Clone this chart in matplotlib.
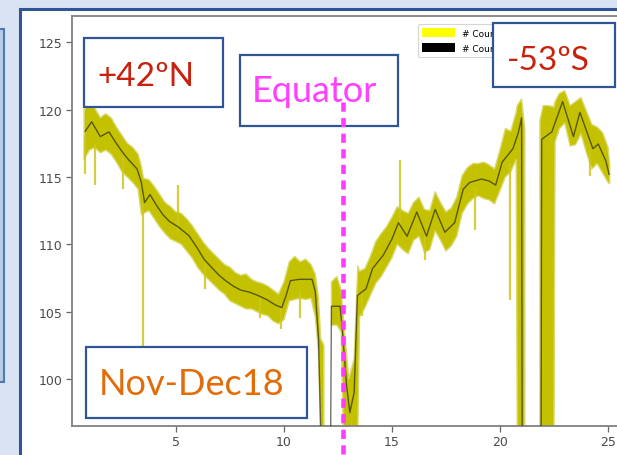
import numpy as np
import matplotlib
matplotlib.use("Agg")
import matplotlib.pyplot as plt
from matplotlib.patches import Rectangle, Patch
from matplotlib.lines import Line2D

# ---- running mean of the counts (black line) ----
day = [0.8, 1.1, 1.5, 1.9, 2.2, 2.5, 2.8, 3.2, 3.4, 3.55, 3.8, 4.1, 4.4, 4.7, 5.1,
       5.6, 6.0, 6.3, 6.7, 7.0, 7.3, 7.65, 8.0, 8.4, 8.8, 9.2, 9.6, 9.9, 10.1, 10.3,
       10.7, 11.0, 11.3, 11.45, 11.6, 11.75, 12.15, 12.2, 12.6, 12.7, 12.9, 13.05, 13.25, 13.4, 13.8,
       14.1, 14.6, 15.0, 15.3, 15.7, 16.15, 16.6, 17.0, 17.45, 17.9, 18.3, 18.6, 19.15, 19.5, 19.8,
       20.1, 20.6, 20.85, 21.0, 21.03, 21.9, 21.93, 22.4, 22.9, 23.4, 23.7, 24.3, 24.55, 24.9, 25.05]
mean_val = [118.4, 119.1, 118.0, 118.35, 117.6, 116.9, 116.3, 115.6, 114.6, 113.1, 113.7, 112.9, 112.2, 111.7, 111.3,
            110.65, 109.7, 108.9, 108.2, 107.7, 107.3, 106.9, 106.6, 106.45, 106.2, 105.9, 105.5, 105.3, 106.2, 107.3,
            107.4, 107.4, 107.4, 106.5, 103.0, 93.0, 93.0, 105.4, 105.4, 103.7, 99.5, 97.5, 99.0, 106.2, 106.7,
            108.2, 109.2, 110.4, 111.6, 110.6, 112.4, 110.6, 112.6, 110.9, 111.6, 114.1, 114.6, 114.85, 114.7, 114.4,
            116.1, 117.1, 118.3, 119.4, 93.0, 93.0, 117.8, 118.35, 120.6, 118.0, 119.8, 117.1, 117.45, 116.2, 115.2]

# ---- spread of the raw counts (yellow band) ----
nan = np.nan
band_day = [0.75, 1.0, 1.25, 1.5, 1.75, 2.0, 2.25, 2.5, 2.75, 3.0, 3.25, 3.4, 3.5, 3.75, 4.0,
            4.25, 4.5, 4.75, 5.0, 5.25, 5.5, 5.75, 6.0, 6.25, 6.5, 6.75, 7.0, 7.25, 7.5, 7.75,
            8.0, 8.25, 8.5, 8.75, 9.0, 9.25, 9.5, 9.75, 10.0, 10.25, 10.5, 10.75, 11.0, 11.25, 11.45,
            11.6, 11.7, 11.85, 11.9,
            12.2, 12.45, 12.65, 12.75, 13.0, 13.25, 13.42, 13.5, 13.75, 14.0, 14.25, 14.5, 14.75, 15.0,
            15.25, 15.5, 15.75, 16.0, 16.25, 16.5, 16.75, 17.0, 17.25, 17.5, 17.75, 18.0, 18.25, 18.5,
            18.75, 19.0, 19.25, 19.5, 19.75, 20.0, 20.25, 20.5, 20.75, 20.8, 21.0, 21.15, 21.5,
            21.85, 22.0, 22.25, 22.5, 22.55, 22.75, 23.0, 23.25, 23.5, 23.75, 24.0, 24.25, 24.5, 24.75,
            25.0, 25.08]
band_lo = [116.3, 117.0, 117.2, 116.8, 117.0, 116.7, 116.1, 115.4, 115.0, 114.6, 114.1, 112.2, 112.3, 112.5, 111.9,
           111.3, 110.8, 110.4, 110.2, 110.0, 109.5, 109.0, 108.3, 107.8, 107.4, 107.0, 106.6, 106.3, 105.8, 105.6,
           105.4, 105.2, 105.2, 105.0, 104.8, 104.7, 104.3, 104.1, 104.4, 105.8, 105.9, 106.0, 105.9, 106.0, 104.6,
           102.0, 96.0, 96.0, nan,
           104.0, 104.0, 103.5, 96.0, 96.0, 96.0, 96.0, 104.6, 105.3, 106.2, 107.1, 107.6, 108.3, 109.0,
           110.0, 109.6, 109.3, 110.3, 110.6, 109.4, 109.6, 111.0, 110.3, 109.5, 109.9, 110.6, 112.3, 113.0,
           113.4, 113.6, 113.4, 113.3, 113.0, 114.0, 115.0, 115.4, 116.3, 96.0, 96.0, 96.0, nan,
           96.0, 96.0, 96.0, 96.0, 117.6, 118.6, 119.0, 117.3, 117.4, 118.2, 116.8, 115.6, 116.0, 115.3,
           114.6, 114.5]
band_hi = [120.0, 120.4, 120.1, 119.4, 119.7, 119.4, 118.7, 118.1, 117.5, 117.2, 116.7, 115.8, 114.9, 114.8, 114.3,
           113.7, 113.1, 112.8, 112.4, 112.3, 111.9, 111.4, 110.8, 110.2, 109.7, 109.3, 108.9, 108.5, 108.3, 107.9,
           107.7, 107.8, 107.4, 107.2, 107.1, 106.9, 106.6, 106.3, 107.2, 108.7, 109.1, 108.7, 108.9, 108.5, 107.8,
           106.0, 103.0, 102.5, nan,
           107.2, 107.6, 106.6, 104.5, 100.0, 101.5, 108.4, 108.0, 108.2, 109.1, 110.2, 110.8, 111.3, 112.0,
           112.8, 112.5, 112.3, 113.1, 113.5, 112.6, 112.5, 113.9, 113.1, 112.4, 112.7, 113.5, 115.1, 115.7,
           116.0, 116.0, 116.1, 115.9, 115.6, 117.0, 118.6, 118.4, 119.8, 120.3, 120.8, 118.5, nan,
           119.2, 120.3, 120.3, 120.2, 120.6, 121.2, 121.4, 120.3, 120.6, 120.9, 119.9, 118.9, 118.7, 118.3,
           117.2, 116.0]

# isolated outliers in the raw counts
spike_day = [0.8, 1.25, 2.55, 3.49, 5.1, 6.34, 8.9, 9.85, 10.74, 13.6, 15.37, 16.53, 18.84, 20.46, 24.17]
spike_lo = [115.2, 114.4, 114.1, 100.5, 111.0, 106.7, 104.5, 103.7, 104.5, 104.7, 111.0, 108.8, 111.1, 105.9, 115.1]
spike_hi = [118.0, 117.5, 116.5, 113.0, 114.4, 108.5, 106.0, 105.5, 106.5, 106.5, 116.3, 111.0, 114.0, 116.0, 117.0]

x_ticks = [5, 10, 15, 20, 25]
y_ticks = [100, 105, 110, 115, 120, 125]
equator_day = 12.73
legend_labels = ["# Counts", "# Counts avg"]

# ---- figure layout in pixels ----
W, H = 617, 456
def fx(px):
    return px / W
def fy(py):
    return 1 - py / H

fig = plt.figure(figsize=(W / 100, H / 100), dpi=100, facecolor="#dae3f3")

# slide panel behind the plot
fig.add_artist(Rectangle((fx(20), fy(480)), fx(640) - fx(20), fy(10) - fy(480),
                         transform=fig.transFigure, facecolor="white",
                         edgecolor="#2f5597", lw=2.2, zorder=-3))
fig.add_artist(Rectangle((fx(-20), fy(383)), fx(3.5) - fx(-20), fy(30) - fy(383),
                         transform=fig.transFigure, facecolor="#b8cbe4",
                         edgecolor="#4f79b3", lw=1.5, zorder=-3))

ax_left, ax_right, ax_top, ax_bottom = 72, 625, 16.7, 426.7
ax = fig.add_axes([fx(ax_left), fy(ax_bottom), fx(ax_right) - fx(ax_left), fy(ax_top) - fy(ax_bottom)])
ax.set_facecolor("white")
ax.set_xlim(0.19, 5 + (ax_right - 176) / 21.6)
ax.set_ylim(96.53, 126.98)

band_day_a = np.array(band_day)
lo = np.array(band_lo)
hi = np.array(band_hi)
ok = np.isfinite(lo)
ax.fill_between(band_day_a, lo, hi, where=ok, color="#c4c100", edgecolor="#dad86e",
                lw=1.0, interpolate=False, zorder=2)
ax.vlines(spike_day, spike_lo, spike_hi, color="#cbc81a", lw=1.6, alpha=0.85, zorder=2)
ax.plot(day, mean_val, color="#111111", lw=1.0, alpha=0.6, zorder=3)

ax.set_xticks(x_ticks)
ax.set_yticks(y_ticks)
ax.tick_params(axis="both", labelsize=9, labelcolor="#4a4a4a", color="#666666",
               length=4, width=0.9, direction="out", pad=3)
for s in ax.spines.values():
    s.set_color("#808080")
    s.set_linewidth(1.3)

leg = ax.legend(handles=[Patch(facecolor="#ffff00"), Patch(facecolor="black")],
                labels=legend_labels, loc="upper left",
                bbox_to_anchor=(fx(418), fy(25)), bbox_transform=fig.transFigure,
                fontsize=6.5, handlelength=3.6, handleheight=1.2, borderaxespad=0,
                borderpad=0.45, labelspacing=0.6, frameon=True, fancybox=True)
leg.get_frame().set_edgecolor("#cccccc")
leg.get_frame().set_linewidth(0.8)

# annotation boxes
def label_box(x0, y0, x1, y1, text, color, tx, tbase, size=24):
    fig.add_artist(Rectangle((fx(x0), fy(y1)), fx(x1) - fx(x0), fy(y0) - fy(y1),
                             transform=fig.transFigure, facecolor="white",
                             edgecolor="#2f5597", lw=1.6, zorder=5))
    fig.text(fx(tx), fy(tbase), text, color=color, fontsize=size, family="Lato",
             ha="left", va="baseline", zorder=6)

label_box(84, 39, 222.5, 108, "+42ºN", "#c8220e", 97, 86)
label_box(240, 56, 398, 126.5, "Equator", "#ff40ff", 252, 101.5, size=26)
label_box(492.5, 24, 615, 88, "-53ºS", "#c8220e", 507, 70)
label_box(86, 348, 307, 419, "Nov-Dec18", "#e36c0a", 99, 395, size=26)

# equator marker
px_eq = 176 + (equator_day - 5) * 21.6
fig.add_artist(Line2D([fx(px_eq), fx(px_eq)], [fy(103), fy(470)], transform=fig.transFigure,
                      color="#ff3cff", lw=3.3, dashes=(2.0, 1.4), zorder=7))

fig.savefig("out.png", dpi=100, facecolor=fig.get_facecolor())
